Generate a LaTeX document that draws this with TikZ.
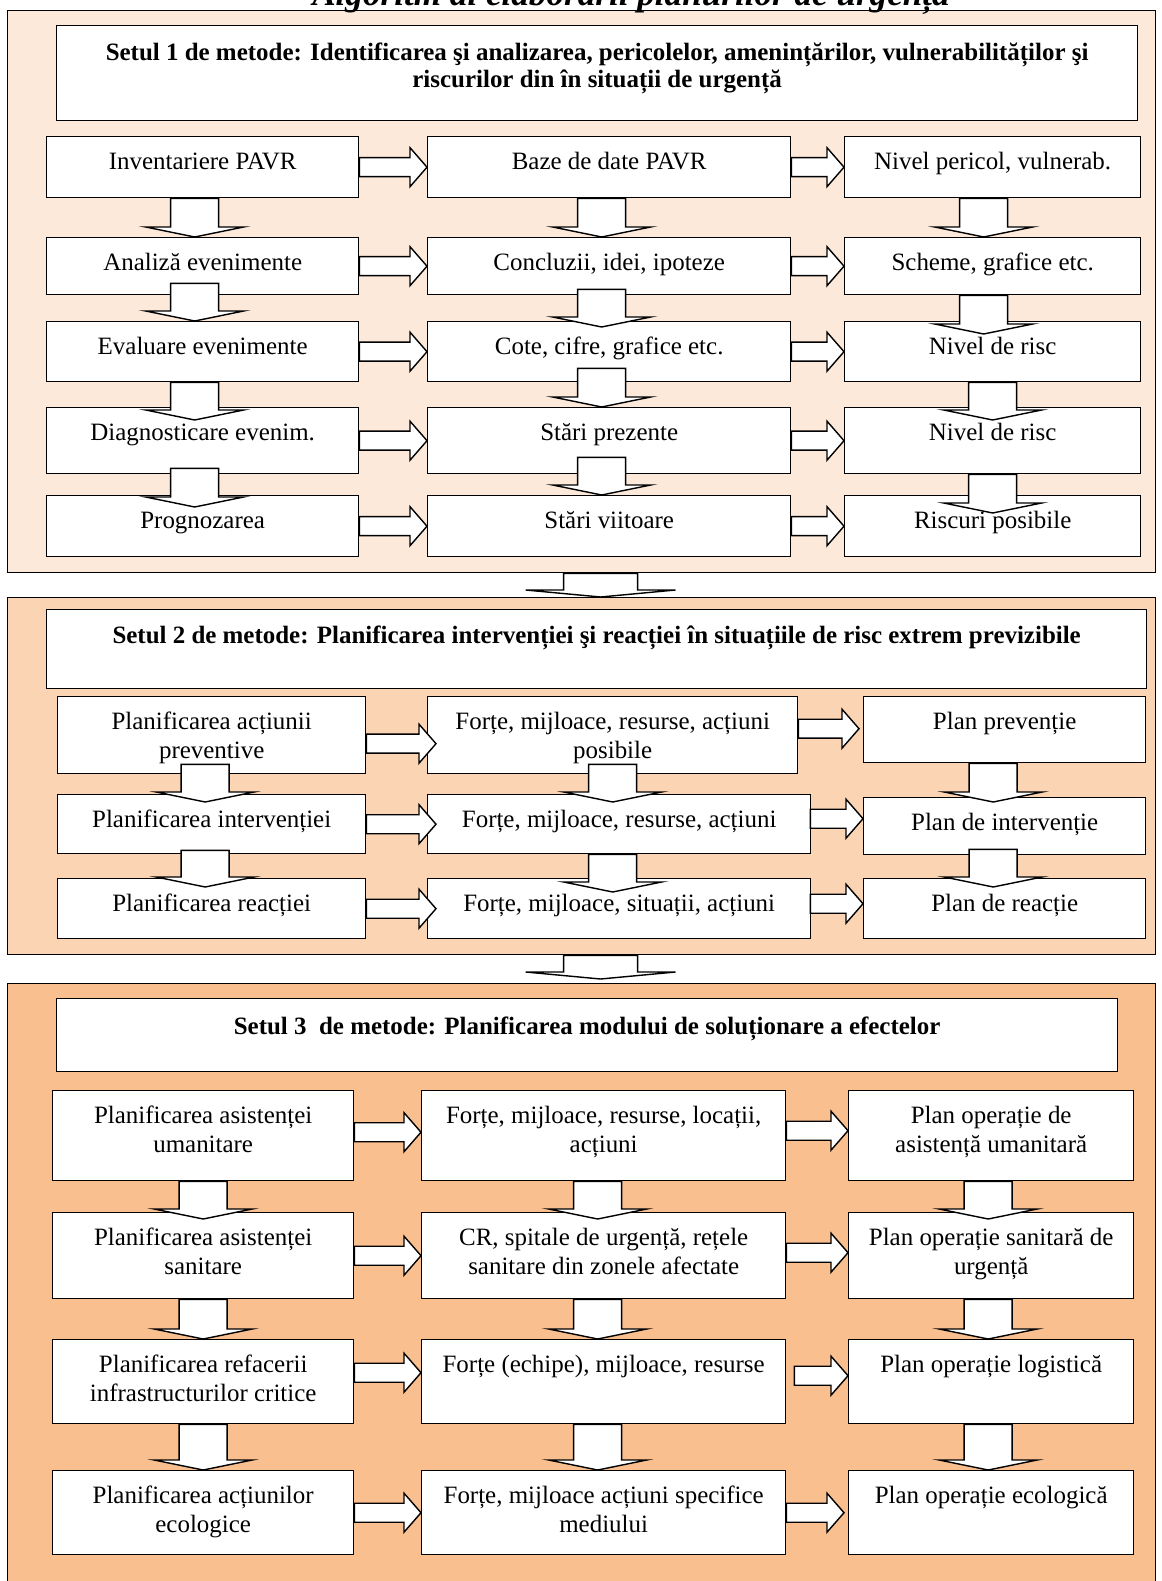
\documentclass[tikz,border=0pt]{standalone}
\usepackage{fontspec}
\setmainfont{Liberation Serif}
\usetikzlibrary{calc}
\definecolor{setone}{HTML}{FDE9D9}
\definecolor{settwo}{HTML}{FBD4B4}
\definecolor{setthree}{HTML}{FABF8F}
\newcommand{\cellfont}{\fontsize{14.2}{16.2}\selectfont}
\newcommand{\hdrfont}{\bfseries\fontsize{14.2}{15.4}\selectfont}
\newcommand{\titlefont}{\bfseries\itshape\fontsize{20}{24}\selectfont}
% baseline of the last text line, measured from the top of a cell
\newcommand{\cellth}{0.66cm}

\begin{document}
\begin{tikzpicture}[x=0.02cm, y=-0.02cm, line width=0.8pt,
  panel/.style 2 args={draw, fill=#1, anchor=north west, inner sep=0pt,
    minimum width=22.96cm, minimum height=#2},
  hdr/.style n args={3}{draw, fill=white, anchor=north west, align=center,
    inner sep=0pt, font=\hdrfont, minimum width=#1, text height=#3, text depth=#2-#3},
  cell/.style 2 args={draw, fill=white, anchor=north west, align=center,
    inner xsep=2pt, inner ysep=0pt, font=\cellfont, minimum width=#1,
    text height=\cellth, text depth=#2-\cellth},
  two/.code={\def\cellth{1.23cm}},
  dn/.style={draw, fill=white, to path={let \p1=(\tikztostart), \p2=(\tikztotarget) in
    (\x1-0.48cm,\y1) -- (\x1+0.48cm,\y1) -- (\x1+0.48cm,\y2+0.2cm) -- (\x1+0.98cm,\y2+0.2cm)
    -- (\x1,\y2) -- (\x1-0.98cm,\y2+0.2cm) -- (\x1-0.48cm,\y2+0.2cm) -- cycle}},
  bigdn/.style={draw, fill=white, to path={let \p1=(\tikztostart), \p2=(\tikztotarget) in
    (\x1-0.74cm,\y1) -- (\x1+0.74cm,\y1) -- (\x1+0.74cm,\y2+0.14cm) -- (\x1+1.5cm,\y2+0.14cm)
    -- (\x1,\y2) -- (\x1-1.5cm,\y2+0.14cm) -- (\x1-0.74cm,\y2+0.14cm) -- cycle}},
  rt/.style={draw, fill=white, to path={let \p1=(\tikztostart), \p2=(\tikztotarget) in
    (\x1,\y1+0.19cm) -- (\x2-0.34cm,\y1+0.19cm) -- (\x2-0.34cm,\y1+0.39cm) -- (\x2,\y1)
    -- (\x2-0.34cm,\y1-0.39cm) -- (\x2-0.34cm,\y1-0.19cm) -- (\x1,\y1-0.19cm) -- cycle}}]

\useasboundingbox (0,0) rectangle (1161,1581);
\clip (0,0) rectangle (1161,1581);

% Set 1: identificare si analiza
\node[panel={setone}{11.24cm}] (set1) at (7,10) {};
\node[hdr={21.62cm}{1.9cm}{1.24cm}] (hdr1) at (56,25)
  {Setul 1 de metode: Identificarea şi analizarea, pericolelor, amenințărilor, vulnerabilităților şi\\riscurilor din în situații de urgență};

\node[cell={6.24cm}{1.22cm}] (s1l1) at (46,136) {Inventariere PAVR};
\node[cell={6.24cm}{1.14cm}] (s1l2) at (46,237) {Analiză evenimente};
\node[cell={6.24cm}{1.2cm}]  (s1l3) at (46,321) {Evaluare evenimente};
\node[cell={6.24cm}{1.32cm}] (s1l4) at (46,407) {Diagnosticare evenim.};
\node[cell={6.24cm}{1.22cm}] (s1l5) at (46,495) {Prognozarea};

\node[cell={7.26cm}{1.22cm}] (s1m1) at (427,136) {Baze de date PAVR};
\node[cell={7.26cm}{1.14cm}] (s1m2) at (427,237) {Concluzii, idei, ipoteze};
\node[cell={7.26cm}{1.2cm}]  (s1m3) at (427,321) {Cote, cifre, grafice etc.};
\node[cell={7.26cm}{1.32cm}] (s1m4) at (427,407) {Stări prezente};
\node[cell={7.26cm}{1.22cm}] (s1m5) at (427,495) {Stări viitoare};

\node[cell={5.92cm}{1.22cm}] (s1r1) at (844,136) {Nivel pericol, vulnerab.};
\node[cell={5.92cm}{1.14cm}] (s1r2) at (844,237) {Scheme, grafice etc.};
\node[cell={5.92cm}{1.2cm}]  (s1r3) at (844,321) {Nivel de risc};
\node[cell={5.92cm}{1.32cm}] (s1r4) at (844,407) {Nivel de risc};
\node[cell={5.92cm}{1.22cm}] (s1r5) at (844,495) {Riscuri posibile};

\foreach \i in {1,...,5} {
  \draw[rt] (s1l\i.east) to (s1m\i.west);
  \draw[rt] (s1m\i.east) to (s1r\i.west);
}

\draw[dn] ([xshift=-0.16cm]s1l1.south) to (s1l2.north);
\draw[dn] ([xshift=-0.16cm,yshift=0.24cm]s1l2.south) to (s1l3.north);
\draw[dn] ([xshift=-0.16cm]s1l3.south) to ([yshift=-0.26cm]s1l4.north);
\draw[dn] ([xshift=-0.16cm,yshift=0.12cm]s1l4.south) to ([yshift=-0.24cm]s1l5.north);

\draw[dn] ([xshift=-0.15cm]s1m1.south) to (s1m2.north);
\draw[dn] ([xshift=-0.15cm,yshift=0.12cm]s1m2.south) to ([yshift=-0.12cm]s1m3.north);
\draw[dn] ([xshift=-0.15cm,yshift=0.28cm]s1m3.south) to (s1m4.north);
\draw[dn] ([xshift=-0.15cm,yshift=0.34cm]s1m4.south) to (s1m5.north);

\draw[dn] ([xshift=-0.18cm]s1r1.south) to (s1r2.north);
\draw[dn] ([xshift=-0.18cm]s1r2.south) to ([yshift=-0.26cm]s1r3.north);
\draw[dn] (s1r3.south) to ([yshift=-0.26cm]s1r4.north);
\draw[dn] (s1r4.south) to ([yshift=-0.36cm]s1r5.north);

% Set 2: planificarea interventiei
\node[panel={settwo}{7.14cm}] (set2) at (7,597) {};
\node[hdr={22cm}{1.58cm}{0.68cm}] (hdr2) at (46,609)
  {Setul 2 de metode: Planificarea intervenției şi reacției în situațiile de risc extrem previzibile};

\node[cell={6.16cm}{1.54cm}, two] (s2l1) at (57,696) {Planificarea acțiunii\\preventive};
\node[cell={6.16cm}{1.18cm}] (s2l2) at (57,794) {Planificarea intervenției};
\node[cell={6.16cm}{1.2cm}]  (s2l3) at (57,878) {Planificarea reacției};

\node[cell={7.4cm}{1.54cm}, two] (s2m1) at (427,696) {Forțe, mijloace, resurse, acțiuni\\posibile};
\node[cell={7.66cm}{1.18cm}] (s2m2) at (427,794) {Forțe, mijloace, resurse, acțiuni};
\node[cell={7.66cm}{1.2cm}]  (s2m3) at (427,878) {Forțe, mijloace, situații, acțiuni};

\node[cell={5.64cm}{1.32cm}] (s2r1) at (863,696) {Plan prevenție};
\node[cell={5.64cm}{1.14cm}] (s2r2) at (863,797) {Plan de intervenție};
\node[cell={5.64cm}{1.2cm}]  (s2r3) at (863,878) {Plan de reacție};

\draw[rt] ([yshift=-0.17cm]s2l1.east) to ([xshift=0.18cm]s2m1.west);
\draw[rt] ([yshift=0.13cm]s2m1.east) to ([xshift=-0.08cm]s2r1.west);
\draw[rt] (s2l2.east) to ([xshift=0.18cm]s2m2.west);
\draw[rt] ([xshift=-0.02cm,yshift=0.11cm]s2m2.east) to (s2r2.west);
\draw[rt] (s2l3.east) to ([xshift=0.18cm]s2m3.west);
\draw[rt] ([xshift=-0.02cm,yshift=0.1cm]s2m3.east) to (s2r3.west);

\draw[dn] ([xshift=-0.13cm,yshift=0.2cm]s2l1.south) to ([yshift=-0.16cm]s2l2.north);
\draw[dn] ([xshift=-0.13cm,yshift=0.08cm]s2l2.south) to ([yshift=-0.18cm]s2l3.north);
\draw[dn] ([yshift=0.2cm]s2m1.south) to ([yshift=-0.16cm]s2m2.north);
\draw[dn] ([xshift=-0.13cm]s2m2.south) to ([yshift=-0.28cm]s2m3.north);
\draw[dn] ([xshift=-0.23cm]s2r1.south) to ([yshift=-0.1cm]s2r2.north);
\draw[dn] ([xshift=-0.23cm,yshift=0.12cm]s2r2.south) to ([yshift=-0.18cm]s2r3.north);

% Set 3: solutionarea efectelor
\node[panel={setthree}{12.4cm}] (set3) at (7,983) {};
\node[hdr={21.22cm}{1.46cm}{0.72cm}] (hdr3) at (56,998)
  {Setul 3\ \ de metode: Planificarea modului de soluționare a efectelor};

\node[cell={6.02cm}{1.8cm}, two]  (s3l1) at (52,1090) {Planificarea asistenței\\umanitare};
\node[cell={6.02cm}{1.72cm}, two] (s3l2) at (52,1212) {Planificarea asistenței\\sanitare};
\node[cell={6.02cm}{1.68cm}, two] (s3l3) at (52,1339) {Planificarea refacerii\\infrastructurilor critice};
\node[cell={6.02cm}{1.68cm}, two] (s3l4) at (52,1470) {Planificarea acțiunilor\\ecologice};

\node[cell={7.28cm}{1.8cm}, two]  (s3m1) at (421,1090) {Forțe, mijloace, resurse, locații,\\acțiuni};
\node[cell={7.28cm}{1.72cm}, two] (s3m2) at (421,1212) {CR, spitale de urgență, rețele\\sanitare din zonele afectate};
\node[cell={7.28cm}{1.68cm}]      (s3m3) at (421,1339) {Forțe (echipe), mijloace, resurse};
\node[cell={7.28cm}{1.68cm}, two] (s3m4) at (421,1470) {Forțe, mijloace acțiuni specifice\\mediului};

\node[cell={5.7cm}{1.8cm}, two]  (s3r1) at (848,1090) {Plan operație de\\asistență umanitară};
\node[cell={5.7cm}{1.72cm}, two] (s3r2) at (848,1212) {Plan operație sanitară de\\urgență};
\node[cell={5.7cm}{1.68cm}]      (s3r3) at (848,1339) {Plan operație logistică};
\node[cell={5.7cm}{1.68cm}]      (s3r4) at (848,1470) {Plan operație ecologică};

\draw[rt] ([yshift=0.07cm]s3l1.east) to (s3m1.west);
\draw[rt] ([yshift=0.1cm]s3m1.east) to (s3r1.west);
\draw[rt] (s3l2.east) to (s3m2.west);
\draw[rt] ([yshift=0.06cm]s3m2.east) to (s3r2.west);
\draw[rt] ([yshift=0.18cm]s3l3.east) to (s3m3.west);
\draw[rt] ([xshift=0.16cm,yshift=0.12cm]s3m3.east) to (s3r3.west);
\draw[rt] (s3l4.east) to (s3m4.west);
\draw[rt] (s3m4.east) to ([xshift=-0.08cm]s3r4.west);

\draw[dn] (s3l1.south) to ([yshift=-0.14cm]s3l2.north);
\draw[dn] (s3l2.south) to (s3l3.north);
\draw[dn] (s3l3.south) to (s3l4.north);
\draw[dn] ([xshift=-0.12cm]s3m1.south) to ([yshift=-0.14cm]s3m2.north);
\draw[dn] ([xshift=-0.12cm]s3m2.south) to (s3m3.north);
\draw[dn] ([xshift=-0.12cm]s3m3.south) to (s3m4.north);
\draw[dn] ([xshift=-0.06cm]s3r1.south) to ([yshift=-0.14cm]s3r2.north);
\draw[dn] ([xshift=-0.06cm]s3r2.south) to (s3r3.north);
\draw[dn] ([xshift=-0.06cm]s3r3.south) to (s3r4.north);

% Between the sets
\draw[bigdn] ([xshift=0.38cm]set1.south) to (set2.north);
\draw[bigdn] ([xshift=0.38cm]set2.south) to ([yshift=0.08cm]set3.north);

% Title, cut by the top edge
\node[font=\titlefont, anchor=base] (title) at (631,6) {Algoritm al elaborării planurilor de urgență};

\end{tikzpicture}
\end{document}
